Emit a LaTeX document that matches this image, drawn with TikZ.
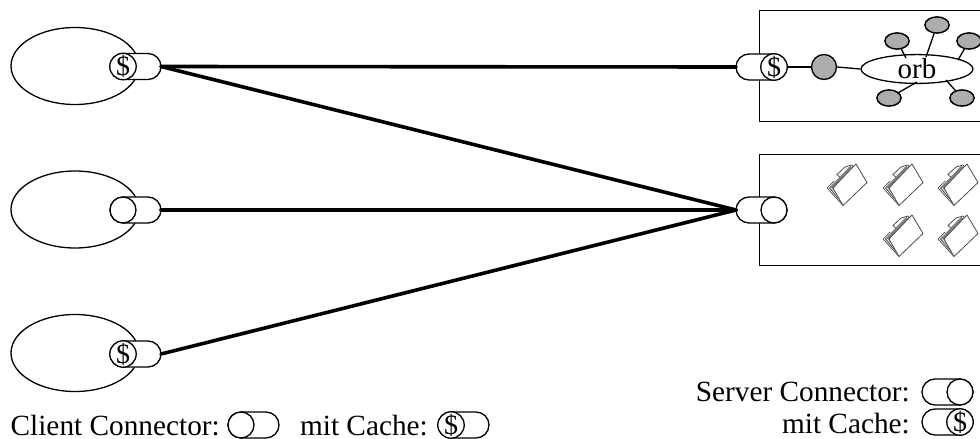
\documentclass[tikz,border=0pt]{standalone}
\usepackage{fontspec}
\setmainfont{Liberation Serif}
\usetikzlibrary{shapes.geometric,shapes.misc}
\tikzset{
  x=1pt,y=-1pt,
  thin line/.style={line width=1.3pt,draw=black},
  client/.style={thin line,ellipse,minimum width=128pt,minimum height=77pt,inner sep=0pt},
  capsule/.style={thin line,fill=white,rounded rectangle,minimum width=51pt,minimum height=26pt,inner sep=0pt,outer sep=0pt},
  cap circle/.style={thin line,fill=white,circle,minimum size=26pt,inner sep=0pt,outer sep=0pt,font=\fontsize{28}{28}\selectfont},
  wire/.style={line width=3.6pt,line cap=round},
  host/.style={thin line,rectangle,inner sep=0pt,anchor=north west,minimum width=240pt},
  hub/.style={thin line,fill=white,ellipse,minimum width=112pt,minimum height=24pt,inner sep=0pt,font=\fontsize{29}{29}\selectfont},
  lobe/.style={thin line,fill=black!32,ellipse,minimum width=24pt,minimum height=16pt,inner sep=0pt},
  bigdot/.style={thin line,fill=black!32,circle,minimum size=25pt,inner sep=0pt},
  legend/.style={inner sep=0pt,font=\fontsize{29.3}{29.3}\selectfont,anchor=base east},
  folder/.pic={
    \draw[line width=.8pt,black!70,fill=white,line join=round]
      (-10,-10.5) -- (-2,-18) -- (5,-20) -- (7,-17) -- (-4,-5) -- cycle;
    \fill[black!50] (-18,3) -- (-4,19) -- (-13,3) -- (6,-17) -- (3,-19) -- cycle;
    \draw[line width=.7pt,black!70] (-20,3) -- (-4,20.5);
    \draw[line width=.7pt,black!70] (-20,3) -- (-13,-4);
    \draw[line width=.7pt,black!70] (-17.5,3) -- (-4,19);
    \draw[line width=.7pt,white] (-16,3) -- (-4,18);
    \draw[line width=.8pt,black!70,fill=white,line join=round]
      (-4,20.5) -- (20,-2.5) -- (9,-21) -- (5.5,-17.5) -- (-14,3) -- cycle;
  }
}
\begin{document}
\begin{tikzpicture}
\useasboundingbox (0,0) rectangle (980,439);
\clip (0,0) rectangle (980,439);
% clients
\node[client] (e1) at (75,66) {};
\node[client] (e2) at (75,209.5) {};
\node[client] (e3) at (75,353) {};
% hosts
\node[host,minimum height=111pt] (h1) at (759,10) {};
\node[host,minimum height=111pt] (h2) at (759,154) {};
% client connectors
\node[capsule] (c1) at (135.5,66.5) {};
\node[cap circle] (c1c) at (123,66.5) {\$};
\node[capsule] (c2) at (135.5,210) {};
\node[cap circle] (c2c) at (123,210) {};
\node[capsule] (c3) at (135.5,354) {};
\node[cap circle] (c3c) at (123,354) {\$};
% server connectors
\node[capsule] (s1) at (761.5,67) {};
\node[cap circle] (s1c) at (774,67) {\$};
\node[capsule] (s2) at (761.5,210) {};
\node[cap circle] (s2c) at (774,210) {};
% wires
\draw[wire] (c1.east) -- (s1.west);
\draw[wire] (c1.east) -- (s2.west);
\draw[wire] (c2.east) -- (s2.west);
\draw[wire] (c3.east) -- (s2.west);
% object bus
\node[bigdot] (dot) at (824,67) {};
\node[hub] (orb) at (917,69) {orb};
\node[lobe] (l1) at (937,25) {};
\node[lobe] (l2) at (897,41) {};
\node[lobe] (l3) at (969,41) {};
\node[lobe] (l4) at (889,98) {};
\node[lobe] (l5) at (962,98) {};
\draw[thin line] (s1c.east) -- (dot.west);
\draw[thin line] (dot.east) -- (orb.west);
\draw[thin line] (l1) -- (926,57);
\draw[thin line] (l2) -- (906,58);
\draw[thin line] (l3) -- (958,60);
\draw[thin line] (l4) -- (917,82);
\draw[thin line] (l5) -- (946,80);
\node[lobe] at (937,25) {};
\node[lobe] at (897,41) {};
\node[lobe] at (969,41) {};
\node[lobe] at (889,98) {};
\node[lobe] at (962,98) {};
% folders
\pic at (847,185) {folder};
\pic at (903,185) {folder};
\pic at (958,185) {folder};
\pic at (903,236) {folder};
\pic at (958,236) {folder};
% legend
\node[legend] (t1) at (220,435) {Client Connector:};
\node[capsule] (k1) at (253.5,425) {};
\node[cap circle] (k1c) at (241,425) {};
\node[legend] (t2) at (428,435) {mit Cache:};
\node[capsule] (k2) at (463.5,425) {};
\node[cap circle] (k2c) at (451,425) {\$};
\node[legend] (t3) at (910,401) {Server Connector:};
\node[capsule] (k3) at (947.5,392) {};
\node[cap circle] (k3c) at (960,392) {};
\node[legend] (t4) at (910,433) {mit Cache:};
\node[capsule] (k4) at (947.5,422) {};
\node[cap circle] (k4c) at (960,422) {\$};
\end{tikzpicture}
\end{document}
